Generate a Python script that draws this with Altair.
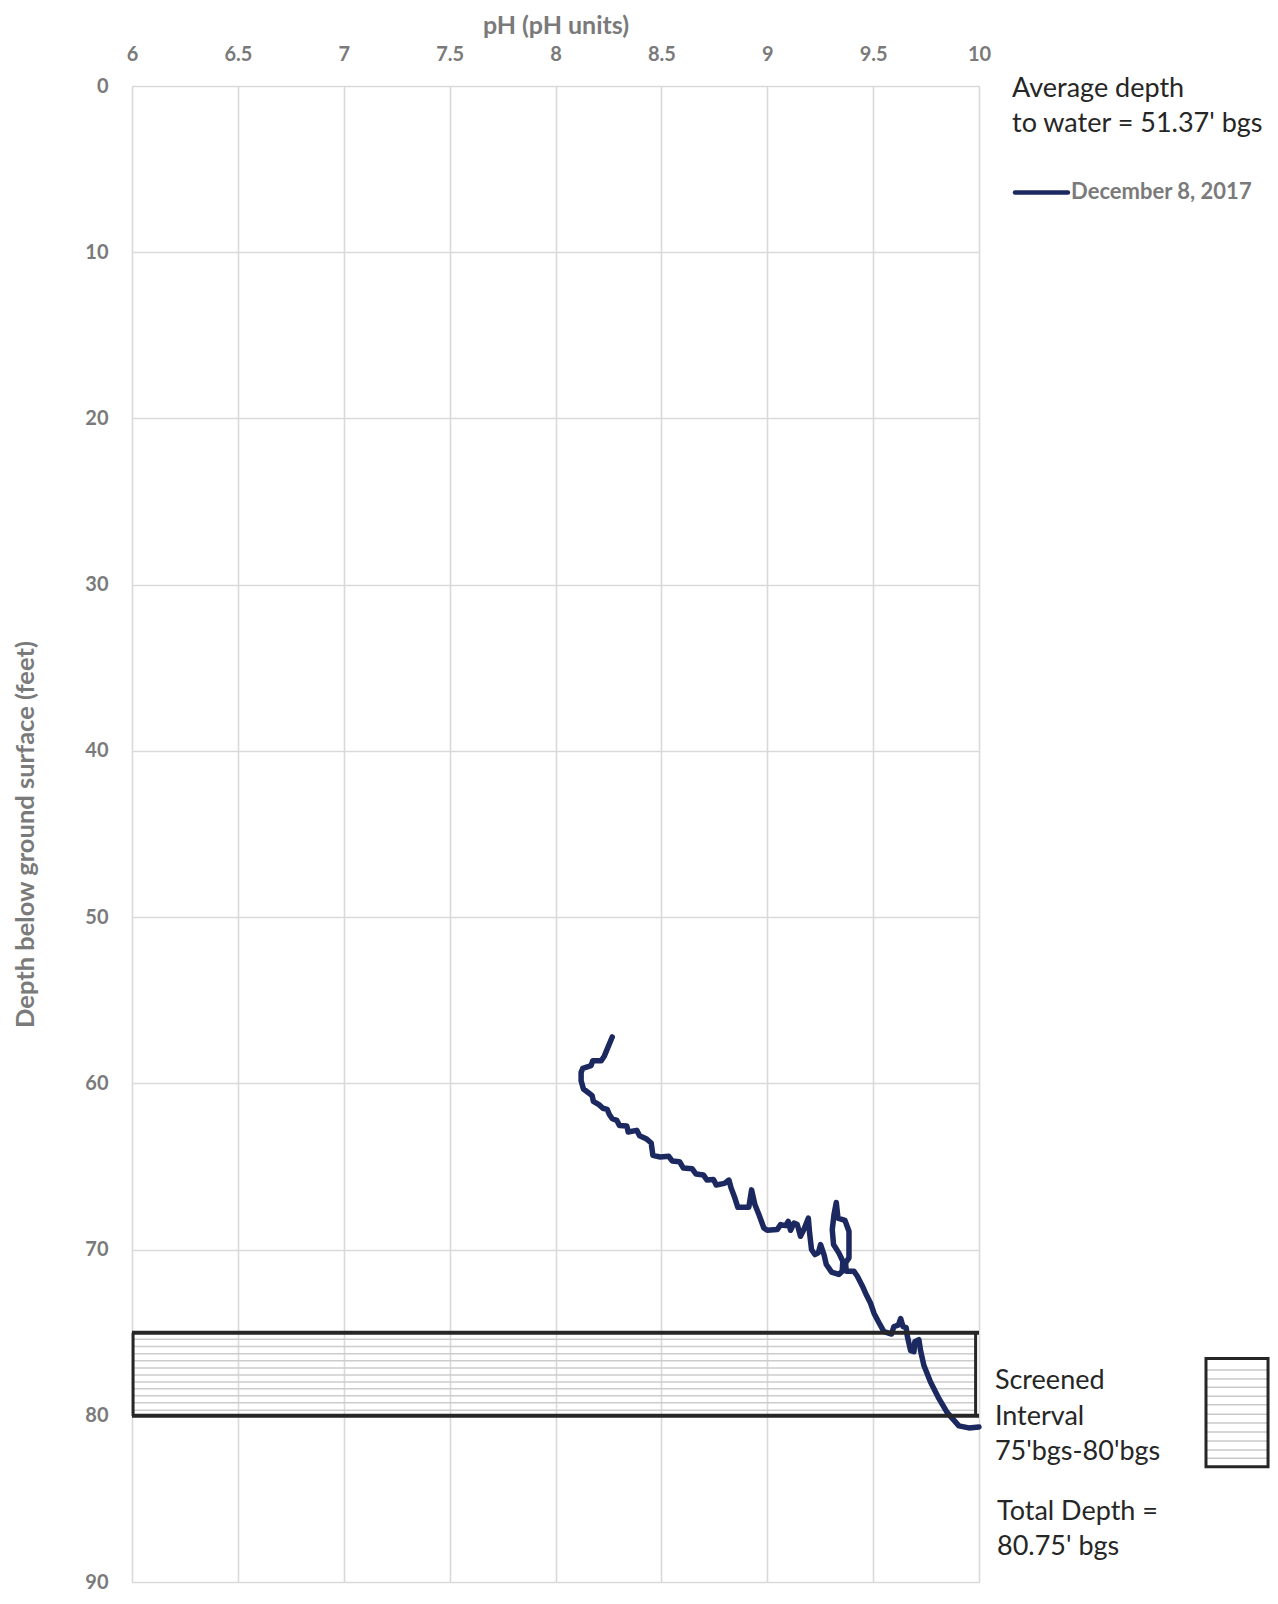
import altair as alt
import pandas as pd

# ---------------- data ----------------
ph = [8.268, 8.247, 8.231, 8.216, 8.176, 8.168, 8.129, 8.121, 8.121, 8.132,
      8.157, 8.173, 8.179, 8.205, 8.224, 8.244, 8.255, 8.268, 8.290, 8.302,
      8.337, 8.343, 8.384, 8.397, 8.428, 8.452, 8.460, 8.494, 8.535, 8.551,
      8.586, 8.604, 8.645, 8.664, 8.699, 8.715, 8.746, 8.759, 8.798, 8.819,
      8.830, 8.845, 8.861, 8.913, 8.926, 8.942, 8.961, 8.984, 9.000, 9.047,
      9.063, 9.087, 9.099, 9.110, 9.126, 9.142, 9.157, 9.173, 9.194, 9.200,
      9.209, 9.225, 9.241, 9.252, 9.268, 9.279, 9.304, 9.338, 9.354, 9.357,
      9.338, 9.313, 9.307, 9.315, 9.326, 9.334, 9.367, 9.386, 9.386, 9.370,
      9.373, 9.409, 9.425, 9.449, 9.469, 9.488, 9.504, 9.527, 9.551, 9.587,
      9.598, 9.619, 9.630, 9.641, 9.656, 9.661, 9.677, 9.693, 9.697, 9.716,
      9.724, 9.740, 9.771, 9.811, 9.850, 9.905, 9.952, 10.0]
depth = [57.21, 57.85, 58.35, 58.64, 58.64, 58.94, 59.10, 59.34, 59.84, 60.34,
         60.58, 60.74, 61.08, 61.28, 61.50, 61.57, 61.89, 62.13, 62.23, 62.53,
         62.57, 62.93, 62.83, 63.15, 63.33, 63.59, 64.33, 64.43, 64.39, 64.67,
         64.72, 65.10, 65.14, 65.46, 65.52, 65.82, 65.78, 66.12, 66.02, 65.82,
         66.32, 66.82, 67.46, 67.45, 66.41, 67.31, 67.91, 68.70, 68.84, 68.80,
         68.50, 68.56, 68.31, 68.84, 68.41, 68.50, 69.20, 68.80, 68.11, 69.00,
         70.00, 70.30, 70.20, 69.70, 70.30, 70.90, 71.36, 71.50, 71.30, 70.70,
         70.20, 69.70, 68.80, 67.91, 67.17, 68.11, 68.25, 68.90, 70.50, 70.80,
         71.30, 71.30, 71.59, 72.19, 72.75, 73.23, 73.83, 74.39, 74.94, 75.08,
         74.63, 74.55, 74.15, 74.63, 74.69, 75.18, 76.08, 76.14, 75.54, 75.42,
         76.08, 76.98, 77.97, 78.97, 79.81, 80.61, 80.73, 80.67]
series_name = "December 8, 2017"

x_ticks = [6, 6.5, 7, 7.5, 8, 8.5, 9, 9.5, 10]
y_ticks = [0, 10, 20, 30, 40, 50, 60, 70, 80, 90]

# screened interval (feet bgs) and its hatch
screen_top, screen_bottom = 75, 80
screen_x = [6.0, 10.0]
screen_side_x = [6.005, 9.984]
screen_hatch = [75.39, 75.83, 76.27, 76.69, 77.13, 77.55, 77.97, 78.38, 78.80, 79.22, 79.66]

# hatch key box at the right
key_x = [11.072, 11.365]
key_y = [76.55, 83.06]
key_hatch = [77.24, 77.78, 78.28, 78.82, 79.34, 79.91, 80.43, 80.97, 81.52, 82.06, 82.56]

# legend
legend_line_x = [10.17, 10.42]
legend_y = 6.40
legend_text_x = 10.435

notes = ["Average depth", "to water = 51.37' bgs", "Screened", "Interval",
         "75'bgs-80'bgs", "Total Depth =", "80.75' bgs"]
notes_x = [10.156, 10.156, 10.075, 10.075, 10.075, 10.085, 10.085]
notes_y = [0.66, 2.75, 78.40, 80.55, 82.65, 86.24, 88.39]

# ---------------- styling ----------------
GRAY = "#7a7a7a"
NAVY = "#1c2860"
DARK = "#262626"
FONT = "Lato"

xscale = alt.Scale(domain=[6, 10], nice=False, zero=False)
yscale = alt.Scale(domain=[0, 90], nice=False, zero=False, reverse=True)

PW, PH = 847, 1496

xaxis = alt.Axis(orient="top", values=x_ticks, format="~g", title="pH (pH units)",
                 grid=True, gridColor="#d9d9d9", gridWidth=1.6, domain=False,
                 ticks=False, tickSize=0, labelPadding=22, labelFont=FONT,
                 labelFontWeight="bold", labelFontSize=20, labelColor=GRAY,
                 labelFlush=False, labelOverlap=False,
                 titleFont=FONT, titleFontWeight="bold", titleFontSize=25,
                 titleColor=GRAY, titleX=PW / 2, titleY=-61,
                 titleBaseline="middle", titleAlign="center")
yaxis = alt.Axis(orient="left", values=y_ticks, format="d",
                 title="Depth below ground surface (feet)",
                 grid=True, gridColor="#d9d9d9", gridWidth=1.6, domain=False,
                 ticks=False, tickSize=0, labelPadding=24, labelFont=FONT,
                 labelFontWeight="bold", labelFontSize=20, labelColor=GRAY,
                 labelFlush=False, labelOverlap=False,
                 titleFont=FONT, titleFontWeight="bold", titleFontSize=25.5,
                 titleColor=GRAY, titleX=-107, titleY=PH / 2, titleAngle=270,
                 titleBaseline="middle", titleAlign="center")


def X(field):
    return alt.X(field, type="quantitative", scale=xscale, axis=xaxis)


def Y(field):
    return alt.Y(field, type="quantitative", scale=yscale, axis=yaxis)


# ---------------- layers ----------------
df_line = pd.DataFrame({"ph": ph, "depth": depth, "i": list(range(len(ph))),
                        "s": [series_name] * len(ph)})

hatch_df = pd.DataFrame({"x1": [screen_side_x[0]] * len(screen_hatch),
                         "x2": [screen_side_x[1]] * len(screen_hatch),
                         "y": screen_hatch})
hatch = alt.Chart(hatch_df).mark_rule(color="#cccccc", strokeWidth=1.5).encode(
    x=X("x1"), x2="x2", y=Y("y"))

line = alt.Chart(df_line).mark_line(color=NAVY, strokeWidth=5.5, strokeJoin="round",
                                    strokeCap="round").encode(
    x=X("ph"), y=Y("depth"), order=alt.Order("i:Q"))

hbord_df = pd.DataFrame({"x1": [screen_x[0]] * 2, "x2": [screen_x[1]] * 2,
                         "y": [screen_top, screen_bottom]})
hbord = alt.Chart(hbord_df).mark_rule(color=DARK, strokeWidth=4).encode(
    x=X("x1"), x2="x2", y=Y("y"))

vbord_df = pd.DataFrame({"x": screen_side_x, "y1": [screen_top] * 2,
                         "y2": [screen_bottom] * 2})
vbord = alt.Chart(vbord_df).mark_rule(color=DARK, strokeWidth=3).encode(
    x=X("x"), y=Y("y1"), y2="y2")

key_hatch_df = pd.DataFrame({"x1": [key_x[0]] * len(key_hatch),
                             "x2": [key_x[1]] * len(key_hatch), "y": key_hatch})
key_h = alt.Chart(key_hatch_df).mark_rule(color="#c8c8c8", strokeWidth=1.5,
                                          clip=False).encode(
    x=X("x1"), x2="x2", y=Y("y"))

key_box_df = pd.DataFrame({"x1": [key_x[0]], "x2": [key_x[1]],
                           "y1": [key_y[0]], "y2": [key_y[1]]})
key_box = alt.Chart(key_box_df).mark_rect(fill=None, fillOpacity=0, stroke=DARK,
                                          strokeWidth=3, clip=False).encode(
    x=X("x1"), x2="x2", y=Y("y1"), y2="y2")

leg_line_df = pd.DataFrame({"x1": [legend_line_x[0]], "x2": [legend_line_x[1]],
                            "y": [legend_y]})
leg_line = alt.Chart(leg_line_df).mark_rule(color=NAVY, strokeWidth=4.5,
                                            strokeCap="round", clip=False).encode(
    x=X("x1"), x2="x2", y=Y("y"))

leg_text_df = pd.DataFrame({"x": [legend_text_x], "y": [legend_y], "t": [series_name]})
leg_text = alt.Chart(leg_text_df).mark_text(align="left", baseline="middle", font=FONT,
                                            fontWeight="bold", fontSize=22, color=GRAY,
                                            clip=False).encode(
    x=X("x"), y=Y("y"), text="t:N")

notes_df = pd.DataFrame({"x": notes_x, "y": notes_y, "t": notes})
notes_layer = alt.Chart(notes_df).mark_text(align="left", baseline="alphabetic",
                                            font=FONT, fontSize=27, color=DARK,
                                            clip=False).encode(
    x=X("x"), y=Y("y"), text="t:N")

chart = alt.layer(hatch, line, hbord, vbord, key_h, key_box, leg_line, leg_text,
                  notes_layer).properties(
    width=PW, height=PH,
    padding={"left": 124, "top": 78, "right": 291, "bottom": 12},
    autosize=alt.AutoSizeParams(type="none"),
).configure_view(stroke=None).configure(font=FONT)

chart.save("out.html", embed_options={"renderer": "svg", "actions": False})
